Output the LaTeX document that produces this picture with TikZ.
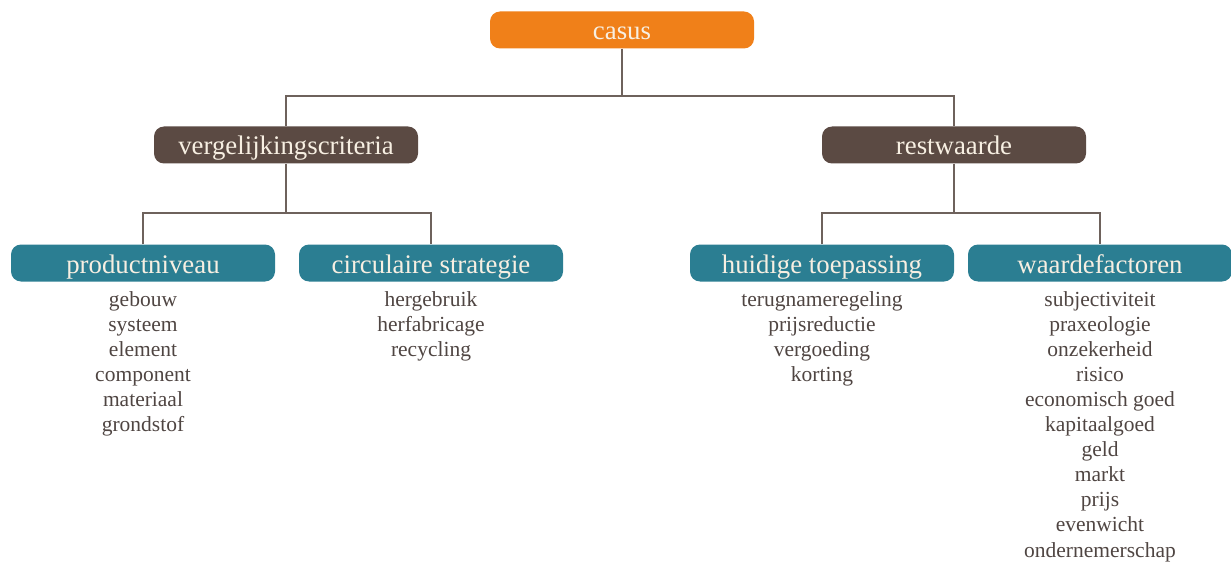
\documentclass[tikz,border=0pt]{standalone}
\usepackage{fontspec}
\setmainfont{Liberation Serif}
\begin{document}
\definecolor{casusorange}{HTML}{F08019}
\definecolor{headbrown}{HTML}{5B4A43}
\definecolor{subteal}{HTML}{2B7E92}
\definecolor{headtext}{HTML}{F7EFE2}
\definecolor{itemtext}{HTML}{4F4542}
\definecolor{linkgray}{HTML}{6E625C}
\begin{tikzpicture}[x=1pt,y=-1pt,
  box/.style={rounded corners=10pt, minimum width=264pt, minimum height=37pt,
    inner sep=0pt, text height=20pt, text depth=0pt, text=headtext,
    font=\fontsize{26.8}{30}\selectfont},
  topbox/.style={box, fill=casusorange},
  midbox/.style={box, fill=headbrown},
  lowbox/.style={box, fill=subteal},
  item/.style={anchor=base, inner sep=0pt, text=itemtext,
    font=\fontsize{21.5}{25}\selectfont},
  link/.style={draw=linkgray, line width=1.5pt}]
\useasboundingbox (0,0) rectangle (1231,564);

% tree levels
\node[topbox] (casus) at (622,30) {casus};
\node[midbox] (vc) at (286,145) {vergelijkingscriteria};
\node[midbox] (rw) at (954,145) {restwaarde};
\node[lowbox] (pn) at (143,263) {productniveau};
\node[lowbox] (cs) at (431,263) {circulaire strategie};
\node[lowbox] (ht) at (822,263) {huidige toepassing};
\node[lowbox] (wf) at (1100,263) {waardefactoren};

% junction points of the elbow connectors
\coordinate (j1) at (622,96);
\coordinate (j2) at (286,213);
\coordinate (j3) at (954,213);

\draw[link] (casus.south) -- (j1);
\draw[link] (vc.north) |- (j1) -| (rw.north);
\draw[link] (vc.south) -- (j2);
\draw[link] (pn.north) |- (j2) -| (cs.north);
\draw[link] (rw.south) -- (j3);
\draw[link] (ht.north) |- (j3) -| (wf.north);

% item lists under the lowest level
\foreach \t [count=\i] in {gebouw,systeem,element,component,materiaal,grondstof}
  \node[item] (pn-\i) at (143,{306+25.1*(\i-1)}) {\t};
\foreach \t [count=\i] in {hergebruik,herfabricage,recycling}
  \node[item] (cs-\i) at (431,{306+25.1*(\i-1)}) {\t};
\foreach \t [count=\i] in {terugnameregeling,prijsreductie,vergoeding,korting}
  \node[item] (ht-\i) at (822,{306+25.1*(\i-1)}) {\t};
\foreach \t [count=\i] in {subjectiviteit,praxeologie,onzekerheid,risico,economisch goed,kapitaalgoed,geld,markt,prijs,evenwicht,ondernemerschap}
  \node[item] (wf-\i) at (1100,{306+25.1*(\i-1)}) {\t};
\end{tikzpicture}
\end{document}
